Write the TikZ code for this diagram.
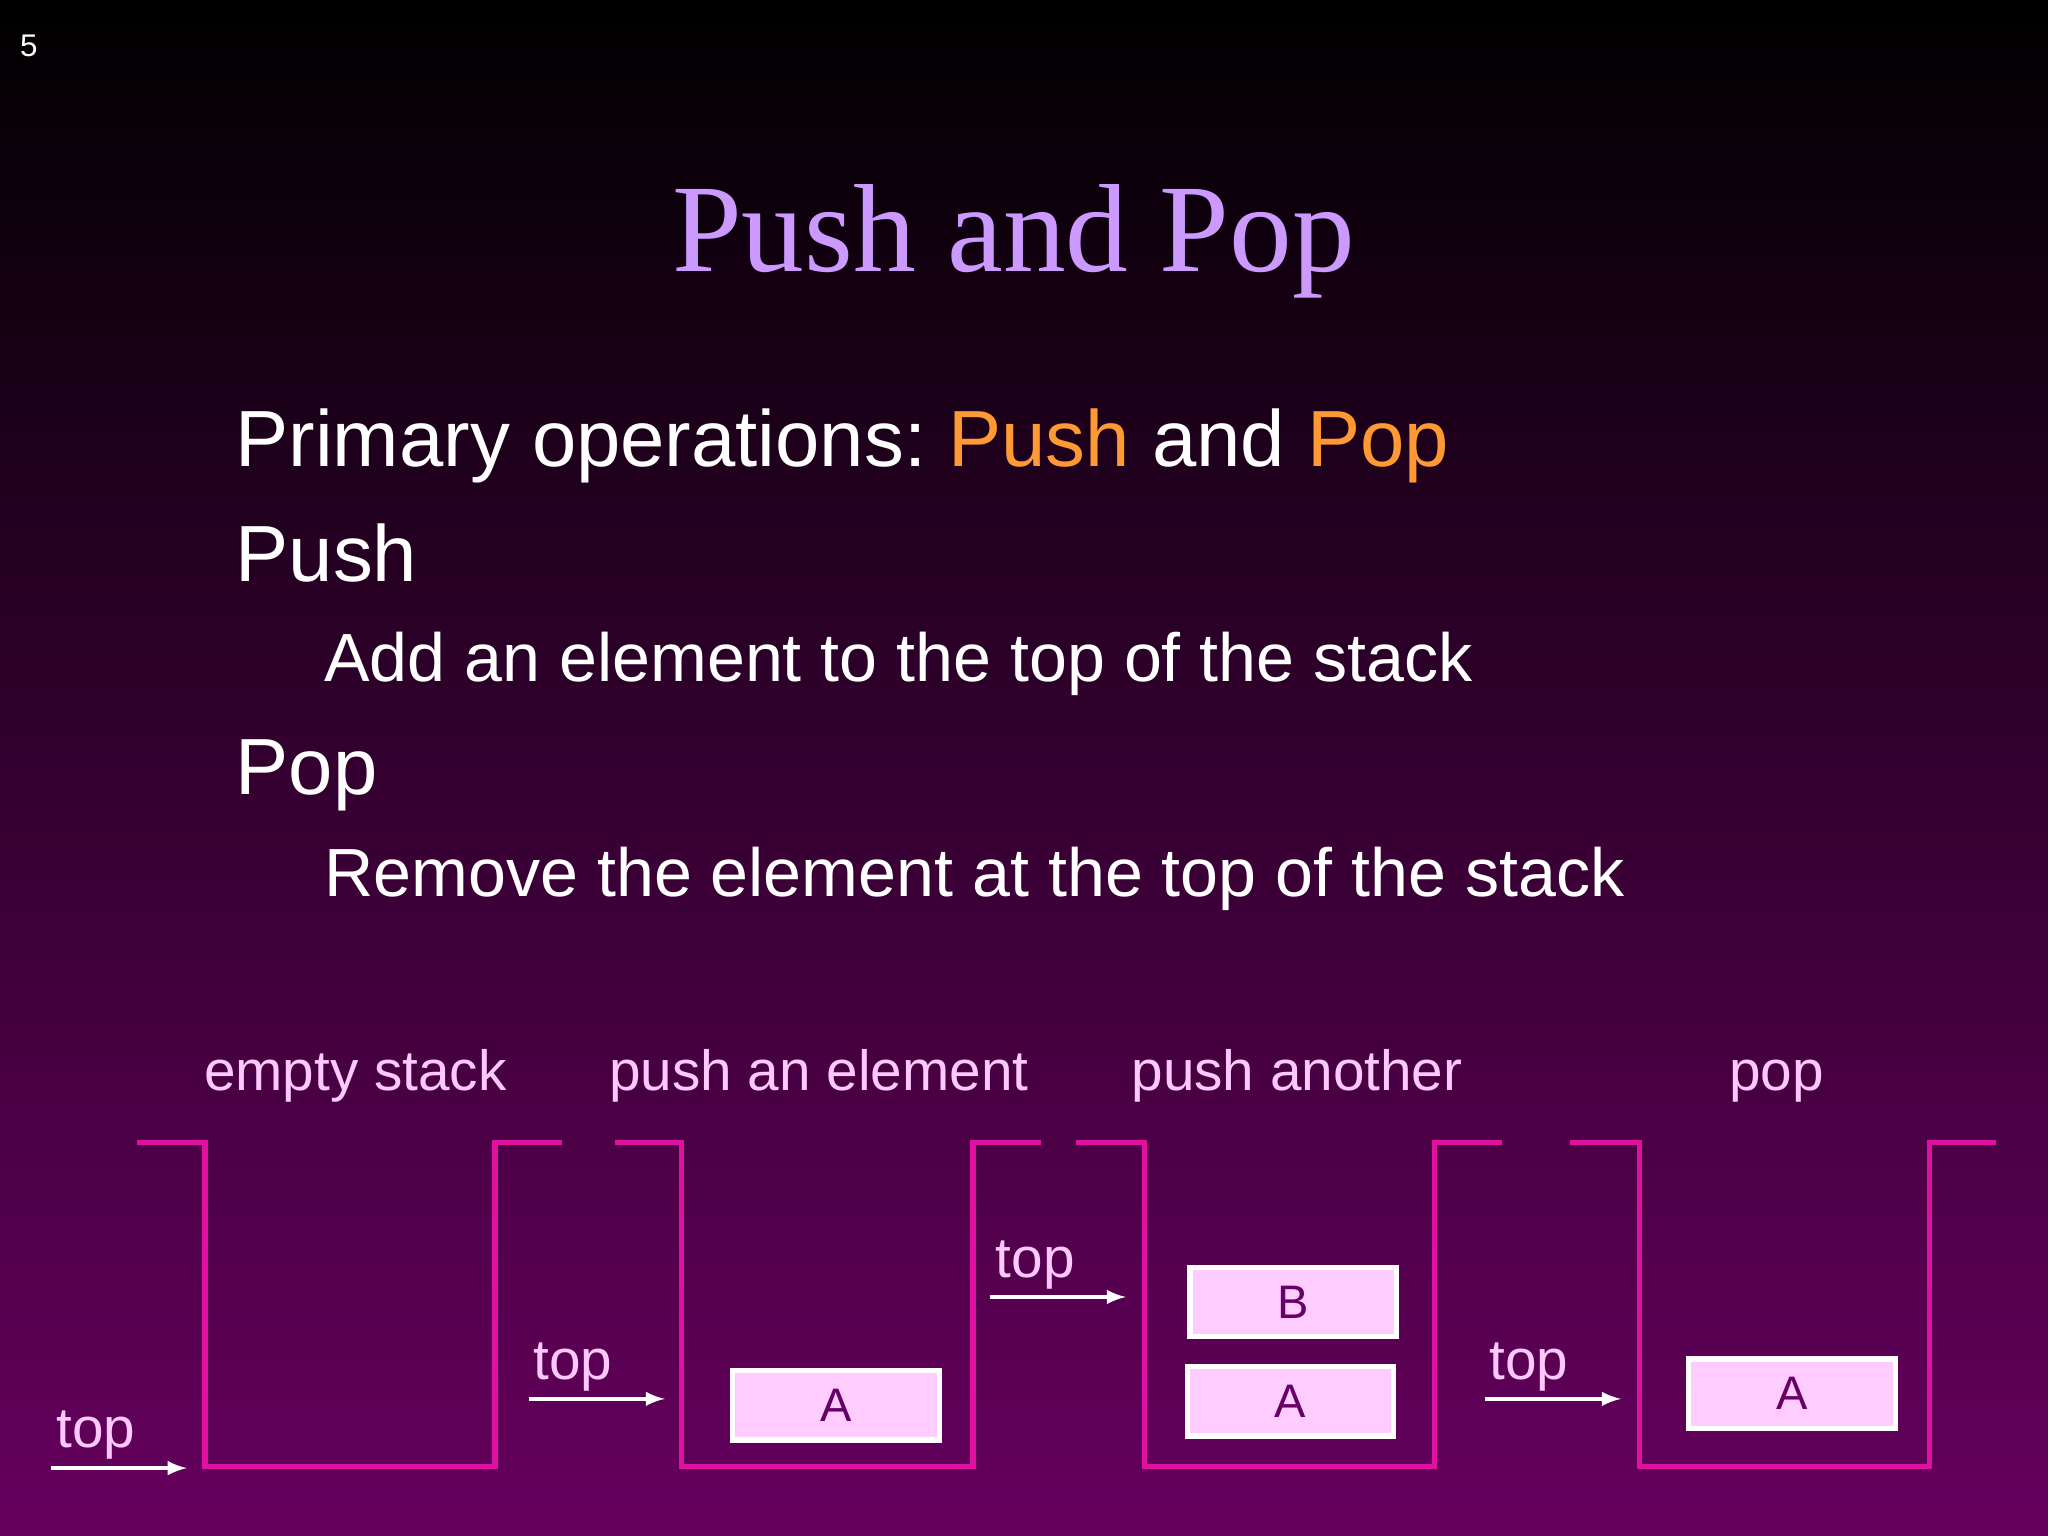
\documentclass[tikz,border=0pt]{standalone}
\usepackage{fontspec}
\setmainfont{Liberation Sans}
\newfontfamily\titlefont{Liberation Serif}
\frenchspacing
\definecolor{bgbot}{HTML}{66005E}
\definecolor{ttl}{HTML}{CC99FF}
\definecolor{org}{HTML}{FF9933}
\definecolor{lbl}{HTML}{FFC8FF}
\definecolor{stk}{HTML}{E010A0}
\definecolor{boxf}{HTML}{FFCCFF}
\definecolor{boxt}{HTML}{660066}
\begin{document}
\begin{tikzpicture}[x=0.5pt,y=-0.5pt,
  body/.style={anchor=base west,text=white,inner sep=0pt,font=\fontsize{30.5}{36}\selectfont},
  sub/.style={anchor=base west,text=white,inner sep=0pt,font=\fontsize{26.1}{31}\selectfont},
  lab/.style={anchor=base,text=lbl,inner sep=0pt,font=\fontsize{21.7}{26}\selectfont},
  toplab/.style={anchor=base west,text=lbl,inner sep=0pt,font=\fontsize{21.7}{26}\selectfont},
  stack/.style={draw=stk,line width=2pt},
  elem/.style={draw=white,line width=2pt,fill=boxf,text=boxt,minimum width=79pt,minimum height=26.5pt,inner sep=0pt,font=\fontsize{18}{22}\selectfont},
  arr/.style={draw=white,line width=1.5pt,-latex}]
\shade[top color=black,bottom color=bgbot,middle color=black!50!bgbot] (0,0) rectangle (1568,1176);
\useasboundingbox (0,0) rectangle (1568,1176);
\node[anchor=base west,text=white,inner sep=0pt,font=\fontsize{12}{14}\selectfont] (pg) at (15,43) {5};
\node[anchor=base,text=ttl,inner sep=0pt,font=\titlefont\fontsize{48}{54}\selectfont] (title) at (776,208) {Push and Pop};
\node[body] (l1) at (180,357) {Primary operations: \textcolor{org}{Push} and \textcolor{org}{Pop}};
\node[body] (l2) at (180,445) {Push};
\node[sub] (l3) at (248,522) {Add an element to the top of the stack};
\node[body] (l4) at (180,608) {Pop};
\node[sub] (l5) at (248,686) {Remove the element at the top of the stack};
\node[lab] (c1) at (272,835) {empty stack};
\node[lab] (c2) at (627,835) {push an element};
\node[lab] (c3) at (993,835) {push another};
\node[lab] (c4) at (1360,835) {pop};
\draw[stack] (105,875) -- (157,875) -- (157,1123) -- (379,1123) -- (379,875) -- (430,875);
\draw[stack] (471,875) -- (522,875) -- (522,1123) -- (745,1123) -- (745,875) -- (797,875);
\draw[stack] (824,875) -- (876,875) -- (876,1123) -- (1098,1123) -- (1098,875) -- (1150,875);
\draw[stack] (1202,875) -- (1255,875) -- (1255,1123) -- (1477,1123) -- (1477,875) -- (1528,875);
\node[elem] (a1) at (640,1076) {A};
\node[elem] (b2) at (990,997) {B};
\node[elem] (a2) at (988,1073) {A};
\node[elem] (a3) at (1372,1067) {A};
\node[toplab] (t1) at (43,1108) {top};
\node[toplab] (t2) at (408,1056) {top};
\node[toplab] (t3) at (762,978) {top};
\node[toplab] (t4) at (1140,1056) {top};
\coordinate (s1) at (39,1124); \coordinate (e1) at (143,1124);
\coordinate (s2) at (405,1071); \coordinate (e2) at (509,1071);
\coordinate (s3) at (758,993); \coordinate (e3) at (862,993);
\coordinate (s4) at (1137,1071); \coordinate (e4) at (1241,1071);
\draw[arr] (s1) -- (e1);
\draw[arr] (s2) -- (e2);
\draw[arr] (s3) -- (e3);
\draw[arr] (s4) -- (e4);
\end{tikzpicture}
\end{document}
